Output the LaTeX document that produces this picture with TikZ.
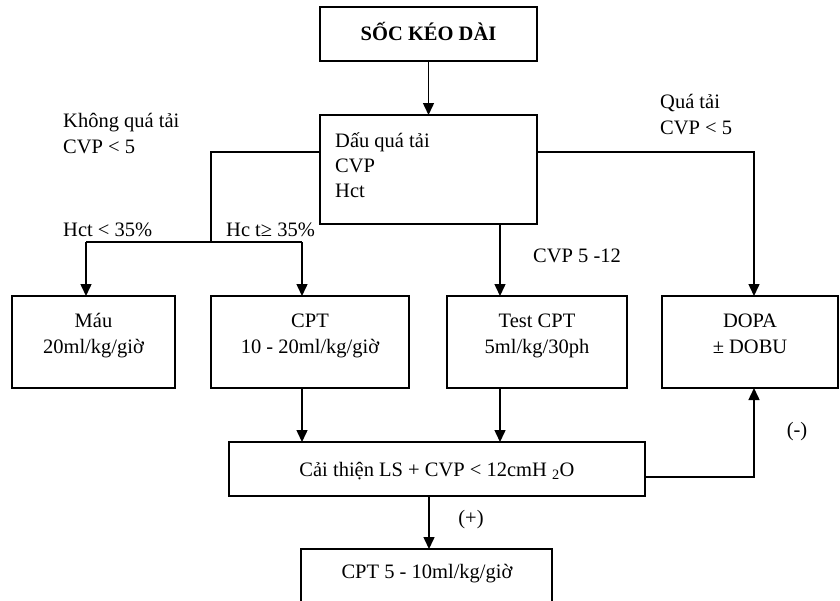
\documentclass[tikz,border=0pt]{standalone}
\usepackage{fontspec}
\setmainfont{Liberation Serif}
\usetikzlibrary{arrows.meta}
\begin{document}
\begin{tikzpicture}[x=1pt,y=-1pt,
  box/.style={draw, line width=1.5pt, inner sep=0pt, outer sep=0pt, anchor=north west},
  lbl/.style={font=\fontsize{20.5}{25}\selectfont, inner sep=0pt, anchor=base west},
  ctr/.style={font=\fontsize{20.5}{25}\selectfont, inner sep=0pt, anchor=base},
  arr/.style={line width=1.5pt, -{Triangle[length=12pt,width=11pt]}},
  ln/.style={line width=1.5pt}]
\clip (0,0) rectangle (840,600);
% boxes
\node[box, minimum width=217pt, minimum height=54pt] (top) at (320,7) {};
\node[box, minimum width=217pt, minimum height=109pt] (box2) at (320,115) {};
\node[box, minimum width=163pt, minimum height=92pt] (mau) at (12,296) {};
\node[box, minimum width=198pt, minimum height=92pt] (cpt) at (211,296) {};
\node[box, minimum width=180pt, minimum height=92pt] (test) at (447,296) {};
\node[box, minimum width=176pt, minimum height=92pt] (dopa) at (662,296) {};
\node[box, minimum width=416pt, minimum height=54pt] (cai) at (229,442) {};
\node[box, minimum width=251pt, minimum height=80pt] (last) at (301,549) {};
% texts in boxes
\node[ctr, font=\fontsize{20.5}{25}\selectfont\bfseries] (t0) at (428.5,40) {SỐC KÉO DÀI};
\node[lbl] (b2a) at (335,147) {Dấu quá tải};
\node[lbl] (b2b) at (335,172) {CVP};
\node[lbl] (b2c) at (335,197) {Hct};
\node[ctr] (m1) at (93.5,327) {Máu};
\node[ctr] (m2) at (93.5,353) {20ml/kg/giờ};
\node[ctr] (c1) at (310,327) {CPT};
\node[ctr] (c2) at (310,353) {10 - 20ml/kg/giờ};
\node[ctr] (s1) at (537,327) {Test CPT};
\node[ctr] (s2) at (537,353) {5ml/kg/30ph};
\node[ctr] (d1) at (750,327) {DOPA};
\node[ctr] (d2) at (750,353) {± DOBU};
\node[ctr] (ct) at (437,476) {Cải thiện LS + CVP < 12cmH \textsubscript{2}O};
\node[ctr] (lt) at (427,578) {CPT 5 - 10ml/kg/giờ};
% free labels
\node[lbl] (l1) at (63,127) {Không quá tải};
\node[lbl] (l2) at (63,153) {CVP < 5};
\node[lbl] (l3) at (660,108) {Quá tải};
\node[lbl] (l4) at (660,134) {CVP < 5};
\node[lbl] (l5) at (63,236) {Hct < 35\%};
\node[lbl] (l6) at (226,236) {Hc t≥ 35\%};
\node[lbl] (l7) at (533,262) {CVP 5 -12};
\node[ctr] (l8) at (797,436) {(-)};
\node[ctr] (l9) at (471,524) {(+)};
% junction coordinates
\coordinate (lj) at (211,152);
\coordinate (ma) at (86,242);
\coordinate (lh) at (211,242);
\coordinate (ca) at (302,242);
\coordinate (rj) at (754,152);
\coordinate (tx) at (500,0);
\coordinate (rr) at (754,477);
\coordinate (bx) at (429,0);
% connectors
\draw[arr] (top.south) -- (box2.north);
\draw[ln] (box2.west |- lj) -- (lj) -- (lh);
\draw[ln] (ma) -- (ca);
\draw[arr] (ma) -- (ma |- mau.north);
\draw[arr] (ca) -- (ca |- cpt.north);
\draw[arr] (box2.east |- rj) -- (rj) -- (rj |- dopa.north);
\draw[arr] (box2.south -| tx) -- (test.north -| tx);
\draw[arr] (cpt.south -| ca) -- (cai.north -| ca);
\draw[arr] (test.south -| tx) -- (cai.north -| tx);
\draw[arr] (cai.east |- rr) -- (rr) -- (dopa.south -| rr);
\draw[arr] (cai.south -| bx) -- (last.north -| bx);
\end{tikzpicture}
\end{document}
